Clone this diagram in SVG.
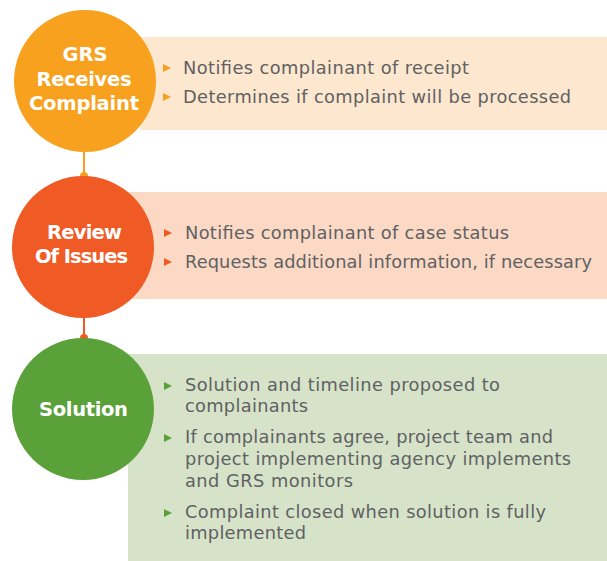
<svg xmlns="http://www.w3.org/2000/svg" width="607" height="561" viewBox="0 0 607 561">
<style>
.t{font-family:"DejaVu Sans","Open Sans",sans-serif;font-size:17.8px;fill:#5f6163}
.h{font-family:"DejaVu Sans","Open Sans",sans-serif;font-size:19.5px;font-weight:bold;fill:#ffffff;text-anchor:middle}
</style>
<rect width="607" height="561" fill="#ffffff"/>
<g id="connectors">
<line x1="84" y1="150" x2="84" y2="176" stroke="#f6a01f" stroke-width="2"/>
<circle cx="84" cy="176" r="4" fill="#f6a01f"/>
<line x1="84" y1="315" x2="84" y2="338" stroke="#f05a24" stroke-width="2"/>
<circle cx="84" cy="338" r="4" fill="#f05a24"/>
</g>
<g id="step1">
<rect x="140" y="37" width="467" height="93" fill="#fde7cf"/>
<circle cx="85" cy="81" r="71" fill="#f7a11f"/>
<text class="h" x="85" y="61" textLength="45">GRS</text>
<text class="h" x="84" y="86" textLength="95">Receives</text>
<text class="h" x="84" y="110" textLength="110">Complaint</text>
<polygon points="163,64 171,68 163,72" fill="#f6a01f"/>
<text class="t" x="183" y="74" textLength="286">Notifies complainant of receipt</text>
<polygon points="163,93 171,97 163,101" fill="#f6a01f"/>
<text class="t" x="183" y="103" textLength="388">Determines if complaint will be processed</text>
</g>
<g id="step2">
<rect x="128" y="192" width="479" height="107" fill="#fbd9c4"/>
<circle cx="83" cy="247" r="71" fill="#f05a24"/>
<text class="h" x="84.5" y="239" textLength="75">Review</text>
<text class="h" x="81.5" y="263" textLength="93">Of Issues</text>
<polygon points="164,229 172,233 164,237" fill="#f05a24"/>
<text class="t" x="185" y="239" textLength="324">Notifies complainant of case status</text>
<polygon points="164,258 172,262 164,266" fill="#f05a24"/>
<text class="t" x="185" y="268" textLength="407">Requests additional information, if necessary</text>
</g>
<g id="step3">
<rect x="128" y="354" width="479" height="207" fill="#d6e3c9"/>
<circle cx="83" cy="409" r="71" fill="#5ba13a"/>
<text class="h" x="83.5" y="416" textLength="89">Solution</text>
<polygon points="164,382 172,386 164,390" fill="#5ba13a"/>
<text class="t" x="185" y="391" textLength="315">Solution and timeline proposed to</text>
<text class="t" x="185" y="412" textLength="123">complainants</text>
<polygon points="164,434 172,438 164,442" fill="#5ba13a"/>
<text class="t" x="185" y="443" textLength="368">If complainants agree, project team and</text>
<text class="t" x="185" y="465" textLength="386">project implementing agency implements</text>
<text class="t" x="185" y="487" textLength="168">and GRS monitors</text>
<polygon points="164,509 172,513 164,517" fill="#5ba13a"/>
<text class="t" x="185" y="518" textLength="361">Complaint closed when solution is fully</text>
<text class="t" x="185" y="539" textLength="121">implemented</text>
</g>
</svg>
